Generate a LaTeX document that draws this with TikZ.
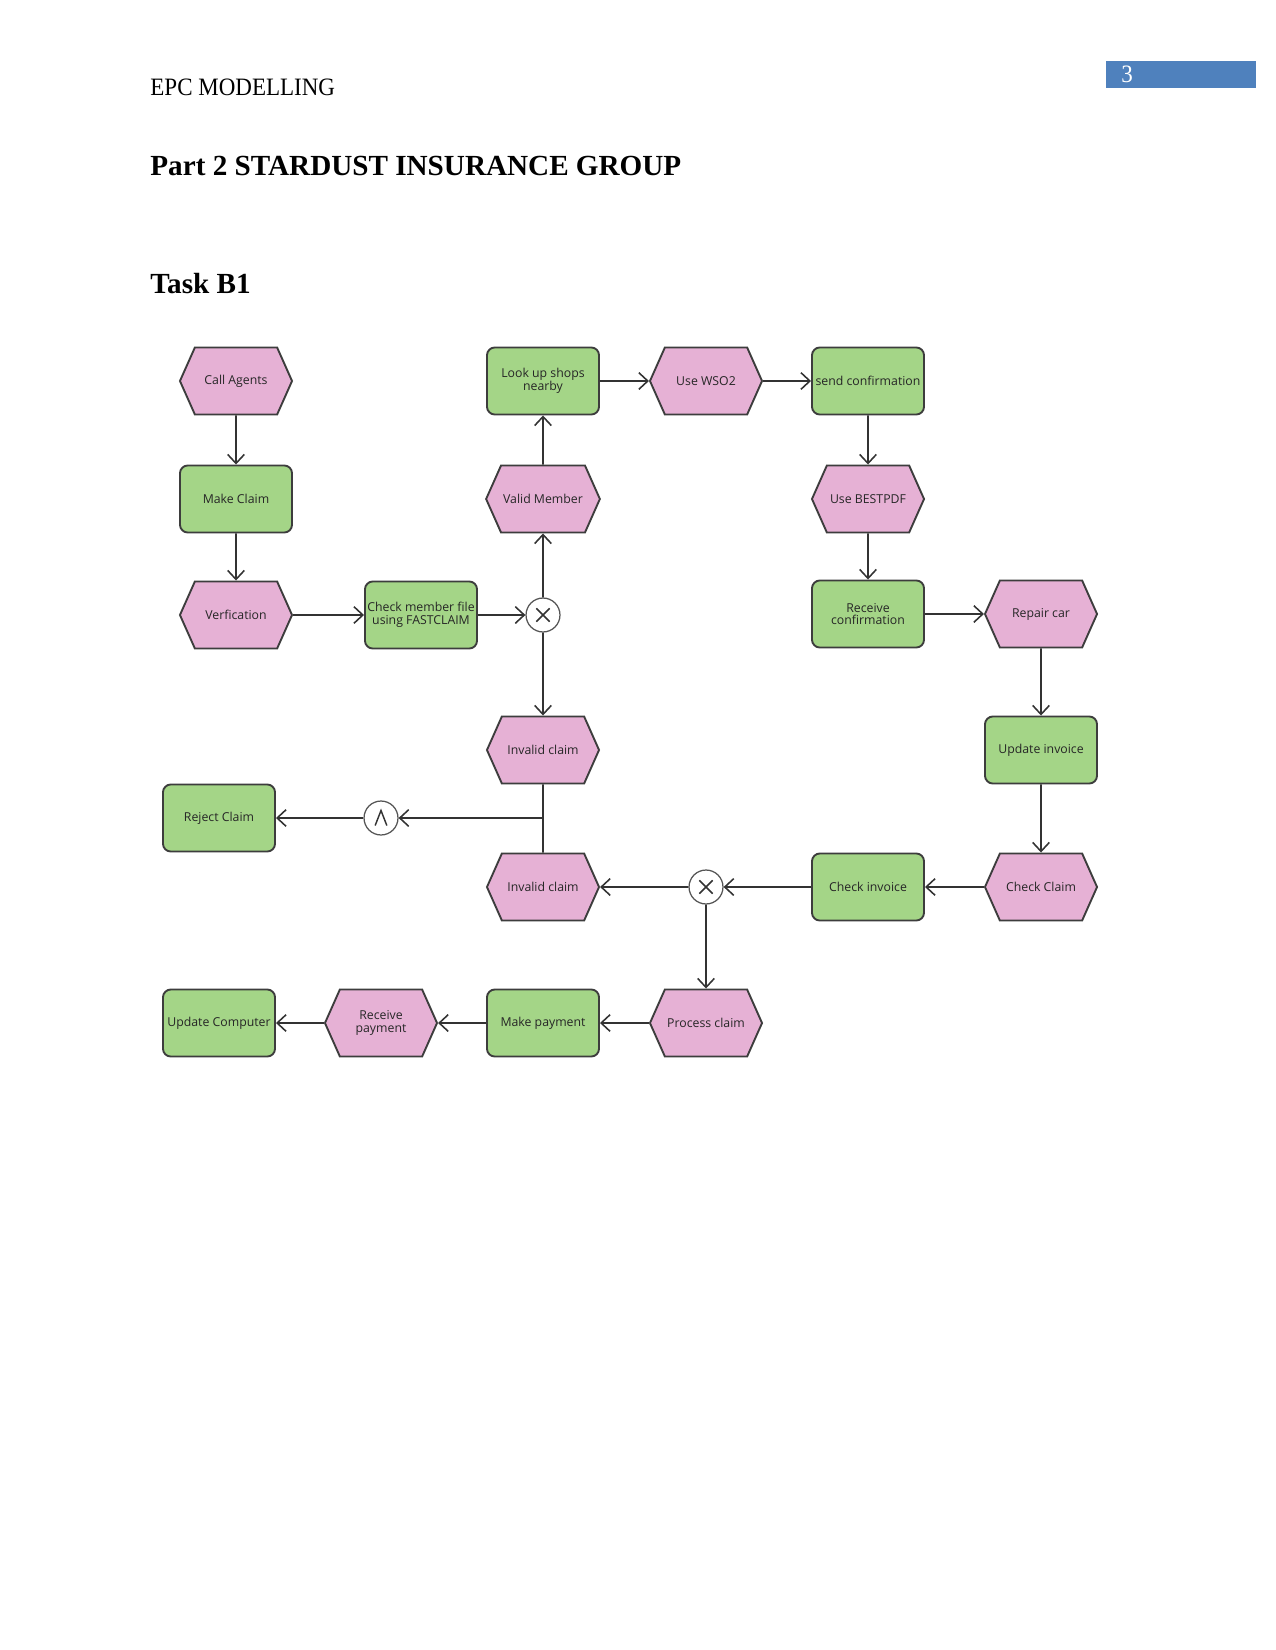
\documentclass[tikz,border=0pt]{standalone}
\usepackage{fontspec}
\setmainfont{Liberation Serif}
\newfontfamily\diagfont{Open Sans}
\newfontfamily\hdrfont[FakeStretch=0.92]{Liberation Serif}
\usetikzlibrary{shapes.symbols,arrows.meta}
\definecolor{pinkc}{HTML}{E6B1D5}
\definecolor{greenc}{HTML}{A4D587}
\definecolor{bordc}{HTML}{3D3D3D}
\definecolor{linec}{HTML}{333333}
\definecolor{gatec}{HTML}{555555}
\definecolor{textc}{HTML}{262626}
\definecolor{pageblue}{HTML}{4F81BD}
\begin{document}
\begin{tikzpicture}[x=0.48pt,y=-0.48pt,
  lbl/.style={font=\diagfont\fontsize{5.9}{6.1}\selectfont, text=textc, align=center, inner sep=1pt},
  evt/.style={lbl, shape=signal, signal to=east and west, signal pointer angle=132,
    minimum width=53.8pt, minimum height=32.2pt, fill=pinkc, draw=bordc, line width=0.9pt},
  fnc/.style={lbl, shape=rectangle, rounded corners=3.8pt,
    minimum width=53.8pt, minimum height=32.2pt, fill=greenc, draw=bordc, line width=0.9pt},
  gate/.style={shape=circle, minimum size=16.3pt, inner sep=0pt, draw=gatec, line width=0.6pt, fill=white},
  xorg/.style={gate, path picture={\draw[linec, line width=0.7pt]
      ([shift={(-3.2pt,-3.2pt)}]path picture bounding box.center) -- ([shift={(3.2pt,3.2pt)}]path picture bounding box.center)
      ([shift={(-3.2pt,3.2pt)}]path picture bounding box.center) -- ([shift={(3.2pt,-3.2pt)}]path picture bounding box.center);}},
  andg/.style={gate, path picture={\draw[linec, line width=0.7pt]
      ([shift={(-2.8pt,-3.6pt)}]path picture bounding box.center) -- ([shift={(0pt,3.6pt)}]path picture bounding box.center)
      -- ([shift={(2.8pt,-3.6pt)}]path picture bounding box.center);}},
  ln/.style={draw=linec, line width=0.75pt},
  arr/.style={ln, -{Straight Barb[length=4.3pt,width=8pt,line width=0.75pt]}},
  hdr/.style={font=\hdrfont\fontsize{12}{14}\selectfont, inner sep=0pt},
  ttl/.style={font=\bfseries\fontsize{14}{16}\selectfont, inner sep=0pt}
]
\useasboundingbox (0,0) rectangle (1275,1650);
\fill[white] (0,0) rectangle (1275,1650);

% page header
\node[hdr, anchor=base west] (header) at (150,96) {EPC MODELLING};
\node[fill=pageblue, anchor=north west, minimum width=72pt, minimum height=13pt, inner sep=0pt] (pgbox) at (1106,61) {};
\node[hdr, anchor=base, text=white] (pgnum) at (1127,83) {3};
\node[ttl, anchor=base west] (title) at (150,176) {Part 2 STARDUST INSURANCE GROUP};
\node[ttl, anchor=base west] (task) at (150,294) {Task B1};

% nodes
\node[evt] (ca)   at (236,381) {Call Agents};
\node[fnc] (mc)   at (236,499) {Make Claim};
\node[evt] (ver)  at (236,615) {Verfication};
\node[fnc] (cmf)  at (421,615) {Check member file\\using FASTCLAIM};
\node[xorg] (x1)  at (543,615) {};
\node[evt] (vm)   at (543,499) {Valid Member};
\node[fnc] (lus)  at (543,381) {Look up shops\\nearby};
\node[evt] (wso)  at (706,381) {Use WSO2};
\node[fnc] (sc)   at (868,381) {send confirmation};
\node[evt] (bp)   at (868,499) {Use BESTPDF};
\node[fnc] (rc)   at (868,614) {Receive\\confirmation};
\node[evt] (rep)  at (1041,614) {Repair car};
\node[fnc] (ui)   at (1041,750) {Update invoice};
\node[evt] (cc)   at (1041,887) {Check Claim};
\node[fnc] (ci)   at (868,887) {Check invoice};
\node[xorg] (x2)  at (706,887) {};
\node[evt] (inv2) at (543,887) {Invalid claim};
\node[evt] (inv1) at (543,750) {Invalid claim};
\node[andg] (and1) at (381,818) {};
\node[fnc] (rej)  at (219,818) {Reject Claim};
\node[evt] (pc)   at (706,1023) {Process claim};
\node[fnc] (mp)   at (543,1023) {Make payment};
\node[evt] (rp)   at (381,1023) {Receive\\payment};
\node[fnc] (uc)   at (219,1023) {Update Computer};
\coordinate (j) at (543,818);

% connectors
\draw[arr] (ca) -- (mc);
\draw[arr] (mc) -- (ver);
\draw[arr] (ver) -- (cmf);
\draw[arr] (cmf) -- (x1);
\draw[arr] (x1) -- (vm);
\draw[arr] (vm) -- (lus);
\draw[arr] (lus) -- (wso);
\draw[arr] (wso) -- (sc);
\draw[arr] (sc) -- (bp);
\draw[arr] (bp) -- (rc);
\draw[arr] (rc) -- (rep);
\draw[arr] (rep) -- (ui);
\draw[arr] (ui) -- (cc);
\draw[arr] (cc) -- (ci);
\draw[arr] (ci) -- (x2);
\draw[arr] (x2) -- (inv2);
\draw[arr] (x2) -- (pc);
\draw[arr] (x1) -- (inv1);
\draw[ln] (inv1) -- (j);
\draw[ln] (inv2) -- (j);
\draw[arr] (j) -- (and1);
\draw[arr] (and1) -- (rej);
\draw[arr] (pc) -- (mp);
\draw[arr] (mp) -- (rp);
\draw[arr] (rp) -- (uc);
\end{tikzpicture}
\end{document}
